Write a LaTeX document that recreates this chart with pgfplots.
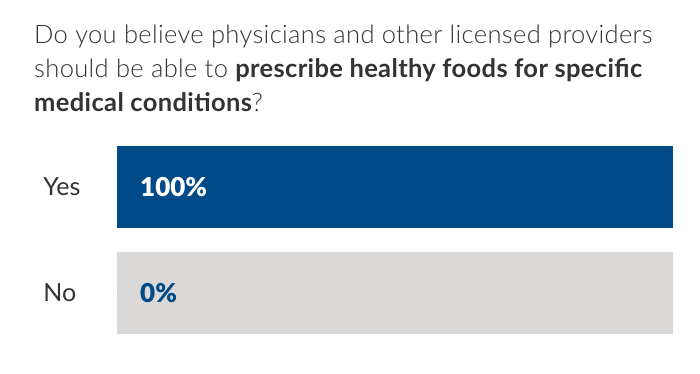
\documentclass[border=0pt]{standalone}
\usepackage{fontspec}
\setmainfont{Lato}
\newfontfamily\lightfont{Lato Light}[LetterSpace=1.4]
\newfontfamily\titlebold{Lato}[LetterSpace=1.4]
\newfontfamily\blackfont{Lato Black}
\usepackage{pgfplots}
\pgfplotsset{compat=1.18}
\definecolor{barblue}{HTML}{004A87}
\definecolor{track}{HTML}{DAD9D8}
\definecolor{txt}{HTML}{333333}
\begin{document}
\begin{tikzpicture}[x=1pt,y=1pt]
\path[use as bounding box, fill=white] (0,0) rectangle (700,374);
\node[anchor=base west, inner sep=0, align=left, font=\fontsize{25.5}{34}\selectfont\lightfont, text=txt] at (34,262.3)
 {Do you believe physicians and other licensed providers\\
  should be able to {\titlebold\bfseries prescribe healthy foods for specific}\\
  {\titlebold\bfseries medical conditions}?};
\begin{axis}[at={(117pt,40pt)}, anchor=south west, scale only axis,
  width=556pt, height=188pt,
  xmin=0, xmax=100, ymin=-0.385, ymax=1.385, y dir=reverse,
  axis line style={draw=none}, major tick length=0pt,
  xtick=\empty, ytick={0,1}, yticklabels={Yes,No},
  yticklabel style={anchor=west, inner sep=0pt, xshift=-73.7pt, text=txt, font=\fontsize{25}{28}\selectfont},
  clip=false]
\addplot[xbar, bar width=82pt, bar shift=0pt, fill=track, draw=none] coordinates {(100,0) (100,1)};
\addplot[xbar, bar width=82pt, bar shift=0pt, fill=barblue, draw=none, restrict x to domain=0.01:100] coordinates {(100,0) (0,1)};
\addplot[only marks, mark=*, mark size=0pt, mark options={draw=none, fill=none},
  nodes near coords={100\%},
  nodes near coords style={anchor=west, inner sep=0pt, xshift=23pt, text=white, font=\blackfont\fontsize{26}{30}\selectfont}]
  coordinates {(0,0)};
\addplot[only marks, mark=*, mark size=0pt, mark options={draw=none, fill=none},
  nodes near coords={0\%},
  nodes near coords style={anchor=west, inner sep=0pt, xshift=23pt, text=barblue, font=\blackfont\fontsize{26}{30}\selectfont}]
  coordinates {(0,1)};
\end{axis}
\end{tikzpicture}
\end{document}
